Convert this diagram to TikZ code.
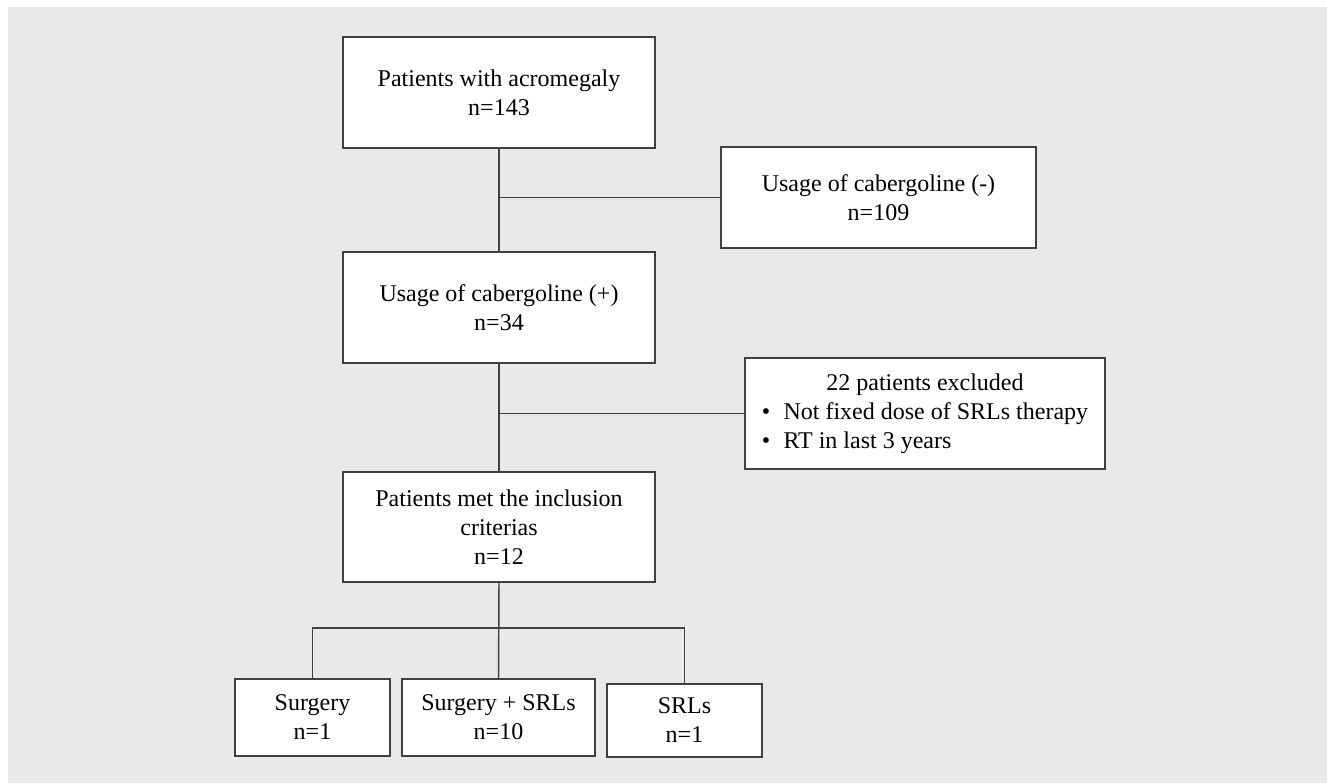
\documentclass[tikz,border=0pt]{standalone}
\usepackage{fontspec}
\setmainfont{Liberation Serif}
\definecolor{bg}{HTML}{E9E9E9}
\definecolor{ln}{HTML}{404040}
\begin{document}
\begin{tikzpicture}[x=0.75pt,y=-0.75pt,
  box/.style={draw=ln,line width=1.1pt,fill=white,rectangle,inner sep=0pt,align=center,
    font=\fontsize{18}{21.75}\selectfont},
  conn/.style={draw=ln,line width=1.1pt}]
\useasboundingbox (0,0) rectangle (1327,783);
\fill[white] (0,0) rectangle (1327,783);
\fill[bg] (8,7) rectangle (1327,783);
\node[box,minimum width=234pt,minimum height=83.25pt] (b1) at (499,92.5) {Patients with acromegaly\\n=143};
\node[box,minimum width=236.25pt,minimum height=75.75pt] (b2) at (878.5,197.5) {Usage of cabergoline (-)\\n=109};
\node[box,minimum width=234pt,minimum height=83.25pt] (b3) at (499,307.5) {Usage of cabergoline (+)\\n=34};
\node[box,minimum width=270pt,minimum height=83.25pt] (b4) at (925,413.5) {%
  \begin{tabular}{@{}l@{\hspace{10pt}}l@{}}
  \multicolumn{2}{@{}c@{}}{22 patients excluded}\\
  \textbullet & Not fixed dose of SRLs therapy\\
  \textbullet & RT in last 3 years
  \end{tabular}};
\node[box,minimum width=234pt,minimum height=82.5pt] (b5) at (499,527) {Patients met the inclusion\\criterias\\n=12};
\node[box,minimum width=116.25pt,minimum height=57.75pt] (b6) at (312.5,717.5) {Surgery\\n=1};
\node[box,minimum width=144.75pt,minimum height=57.75pt] (b7) at (498.5,717.5) {Surgery + SRLs\\n=10};
\node[box,minimum width=116.25pt,minimum height=54.75pt] (b8) at (684.5,720.5) {SRLs\\n=1};
\coordinate (j) at (499,628);
\draw[conn] (b1.south) -- (b3.north);
\draw[conn] (b2.west) -- (b2.west -| b1.south);
\draw[conn] (b3.south) -- (b5.north);
\draw[conn] (b4.west) -- (b4.west -| b3.south);
\draw[conn] (b5.south) -- (b7.north);
\draw[conn] (b6.north) |- (b8.north |- j) -- (b8.north);
\end{tikzpicture}
\end{document}
